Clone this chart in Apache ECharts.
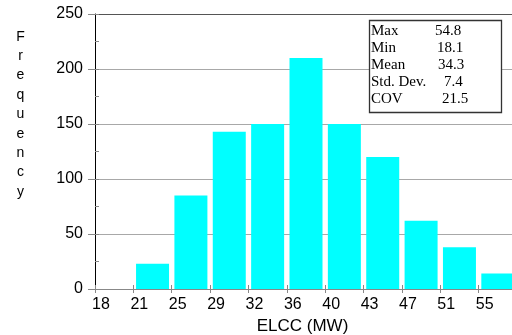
<!DOCTYPE html>
<html>
<head>
<meta charset="utf-8">
<script src="https://cdn.jsdelivr.net/npm/echarts@6/dist/echarts.min.js"></script>
<style>
html,body{margin:0;padding:0;background:#fff;}
#c{width:512px;height:335px;}
</style>
</head>
<body>
<div id="c"></div>
<script>
// ---- data ----
var binEdges = ['18','21','25','29','32','36','40','43','47','51','55'];
var frequency = [0, 23, 85, 143, 150, 210, 150, 120, 62, 38, 14];
var yTicks = [0, 50, 100, 150, 200, 250];
var statNames = ['Max', 'Min', 'Mean', 'Std. Dev.', 'COV'];
var statValues = ['54.8', '18.1', '34.3', '7.4', '21.5'];
var yTitle = 'Frequency';
var xTitle = 'ELCC (MW)';

// ---- layout (styles only) ----
var statValueX = [435, 437, 438, 444, 442];

var chart = echarts.init(document.getElementById('c'), null, {renderer: 'canvas'});
var barData = frequency.map(function (v, i) { return [i + 0.5, v]; });

var gridRect = {left: 95, top: 14, right: -5, bottom: 46, containLabel: false, outerBoundsMode: 'none'};

var statGraphics = [{
  type: 'rect',
  shape: {x: 369.5, y: 20.5, width: 132, height: 92},
  style: {fill: '#fff', stroke: '#333', lineWidth: 1.3},
  z: 100
}];
statNames.forEach(function (n, i) {
  statGraphics.push({
    type: 'text', z: 101,
    style: {x: 371, y: 31.5 + i * 16.8, text: n, font: '15px "Liberation Serif", "Times New Roman", serif',
      fill: '#000', textVerticalAlign: 'middle', textAlign: 'left'}
  });
  statGraphics.push({
    type: 'text', z: 101,
    style: {x: statValueX[i], y: 31.5 + i * 16.8, text: statValues[i], font: '15px "Liberation Serif", "Times New Roman", serif',
      fill: '#000', textVerticalAlign: 'middle', textAlign: 'left'}
  });
});
statGraphics.push({
  type: 'text', z: 101,
  style: {x: 20.5, y: 27, text: yTitle.split('').join('\n'), font: '14px "Liberation Sans", Arial, sans-serif',
    fill: '#000', textAlign: 'center', textVerticalAlign: 'top', lineHeight: 19.4}
});

chart.setOption({
  animation: false,
  grid: [gridRect, gridRect],
  xAxis: [{
    type: 'value', gridIndex: 0, position: 'bottom',
    min: 0, max: binEdges.length, interval: 1,
    axisLine: {show: true, lineStyle: {color: '#888', width: 1}},
    axisTick: {show: true, inside: false, length: 4, lineStyle: {color: '#888'}},
    axisLabel: {
      show: true, margin: 8, color: '#000', fontSize: 16,
      fontFamily: '"Liberation Sans", Arial, sans-serif',
      padding: [0, 0, 0, 12],
      formatter: function (v) { return binEdges[v] !== undefined ? binEdges[v] : ''; }
    },
    splitLine: {show: false},
    name: xTitle, nameLocation: 'middle', nameGap: 27,
    nameTextStyle: {color: '#000', fontSize: 17, fontFamily: '"Liberation Sans", Arial, sans-serif', padding: [0, 7, 0, 0]}
  }, {
    type: 'value', gridIndex: 0, position: 'top',
    min: 0, max: binEdges.length, interval: 1,
    axisLine: {show: true, lineStyle: {color: '#555', width: 1}},
    axisTick: {show: false}, axisLabel: {show: false}, splitLine: {show: false}
  }, {
    type: 'value', gridIndex: 1, position: 'bottom',
    min: 0, max: binEdges.length, interval: 1,
    axisLine: {show: false},
    axisTick: {show: true, inside: true, length: 4, lineStyle: {color: '#888'}},
    axisLabel: {show: false}, splitLine: {show: false}
  }],
  yAxis: [{
    type: 'value', gridIndex: 0, position: 'left',
    min: yTicks[0], max: yTicks[yTicks.length - 1], interval: yTicks[1] - yTicks[0],
    axisLine: {show: true, lineStyle: {color: '#000', width: 1}},
    axisTick: {show: true, inside: false, length: 7, lineStyle: {color: '#888'}},
    axisLabel: {show: true, margin: 12, color: '#000', fontSize: 16, fontFamily: '"Liberation Sans", Arial, sans-serif'},
    splitLine: {show: true, lineStyle: {color: '#a8a8a8', width: 1}}
  }, {
    type: 'value', gridIndex: 1, position: 'left',
    min: yTicks[0], max: yTicks[yTicks.length - 1], interval: (yTicks[1] - yTicks[0]) / 2,
    axisLine: {show: false},
    axisTick: {show: true, inside: true, length: 4, lineStyle: {color: '#888'}},
    axisLabel: {show: false}, splitLine: {show: false}
  }],
  series: [{
    type: 'bar', xAxisIndex: 0, yAxisIndex: 0,
    data: barData, barWidth: 33,
    itemStyle: {color: '#00ffff'},
    z: 3
  }],
  graphic: statGraphics
});
</script>
</body>
</html>
